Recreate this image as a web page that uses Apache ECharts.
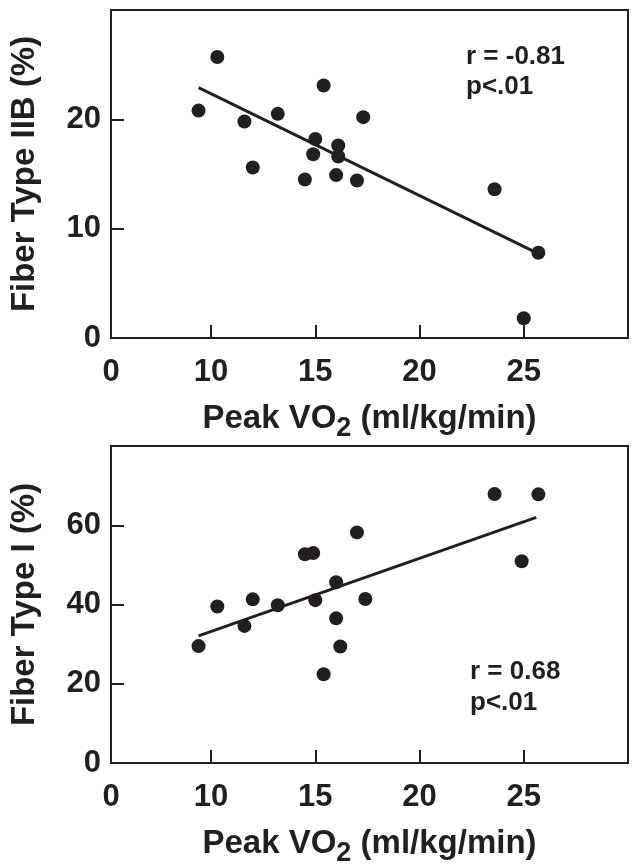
<!DOCTYPE html>
<html>
<head>
<meta charset="utf-8">
<script src="https://cdn.jsdelivr.net/npm/echarts@6/dist/echarts.min.js"></script>
<style>
  html, body { margin: 0; padding: 0; background: #fff; }
  #main { width: 639px; height: 868px; }
</style>
</head>
<body>
<div id="main"></div>
<script>
// 上图：IIB 型纤维
const vo2Top = [9.4, 10.3, 11.6, 12.0, 13.2, 14.5, 14.9, 15.0, 15.4, 16.0, 16.1, 16.1, 17.0, 17.3, 23.6, 25.0, 25.7]
const typeIIB = [20.8, 25.7, 19.8, 15.6, 20.5, 14.5, 16.8, 18.2, 23.1, 14.9, 17.6, 16.6, 14.4, 20.2, 13.6, 1.8, 7.8]
const fitTopX = [9.4, 25.6]
const fitTopY = [22.9, 7.8]
// 下图：I 型纤维
const vo2Bottom = [9.4, 10.3, 11.6, 12.0, 13.2, 14.5, 14.9, 15.0, 15.4, 16.0, 16.0, 16.2, 17.0, 17.4, 23.6, 24.9, 25.7]
const typeI = [29.5, 39.5, 34.6, 41.3, 39.8, 52.7, 53.0, 41.1, 22.4, 45.6, 36.5, 29.4, 58.2, 41.4, 67.9, 50.9, 67.8]
const fitBottomX = [9.4, 25.6]
const fitBottomY = [32.1, 62.0]
// 刻度
const xTicks = [0, 10, 15, 20, 25]
const yTicksTop = [0, 10, 20]
const yTicksBottom = [0, 20, 40, 60]

const ink = '#231f20'
const font = 'Liberation Sans, Arial, sans-serif'

function pairs(xs, ys) {
  return xs.map((x, i) => [x, ys[i]])
}

function makeX(gridIndex) {
  return {
    gridIndex: gridIndex,
    type: 'value',
    min: 0,
    max: 30,
    // 0~10 之间压缩显示
    breaks: [{ start: 2, end: 7.2, gap: 0 }],
    breakArea: { show: false },
    axisLine: { lineStyle: { color: ink, width: 2 } },
    axisTick: {
      inside: true, length: 13, customValues: xTicks,
      lineStyle: { color: ink, width: 2 }
    },
    splitLine: { show: false },
    axisLabel: {
      color: ink, fontFamily: font, fontWeight: 'bold', fontSize: 31, margin: 19,
      customValues: xTicks
    },
    name: '{a|Peak VO}{s|2}{a| (ml/kg/min)}',
    nameLocation: 'middle',
    nameGap: 64,
    nameTextStyle: {
      rich: {
        a: { color: ink, fontFamily: font, fontWeight: 'bold', fontSize: 33, verticalAlign: 'top' },
        s: { color: ink, fontFamily: font, fontWeight: 'bold', fontSize: 27, verticalAlign: 'top', padding: [13, 0, 0, 0] }
      }
    }
  }
}

function makeY(gridIndex, max, interval, ticks, title) {
  return {
    gridIndex: gridIndex,
    type: 'value',
    min: 0,
    max: max,
    interval: interval,
    axisLine: { lineStyle: { color: ink, width: 2 } },
    axisTick: { inside: true, length: 13, lineStyle: { color: ink, width: 2 } },
    splitLine: { show: false },
    axisLabel: {
      color: ink, fontFamily: font, fontWeight: 'bold', fontSize: 31, margin: 10,
      formatter: v => ticks.indexOf(v) >= 0 ? String(v) : ''
    },
    name: title,
    nameLocation: 'middle',
    nameGap: 70,
    nameTextStyle: { color: ink, fontFamily: font, fontWeight: 'bold', fontSize: 33 }
  }
}

function dots(idx, xs, ys) {
  return {
    type: 'scatter', xAxisIndex: idx, yAxisIndex: idx,
    data: pairs(xs, ys), symbolSize: 14,
    itemStyle: { color: ink, opacity: 1 }, z: 3
  }
}

function fit(idx, xs, ys) {
  return {
    type: 'line', xAxisIndex: idx, yAxisIndex: idx,
    data: pairs(xs, ys), symbol: 'none',
    lineStyle: { color: ink, width: 3 }, z: 2
  }
}

const chart = echarts.init(document.getElementById('main'))
chart.setOption({
  animation: false,
  backgroundColor: '#fff',
  grid: [
    { left: 102, width: 526, top: 10, height: 328, show: true, borderColor: ink, borderWidth: 2 },
    { left: 102, width: 526, top: 446, height: 329, show: true, borderColor: ink, borderWidth: 2 }
  ],
  xAxis: [makeX(0), makeX(1)],
  yAxis: [
    makeY(0, 30, 10, yTicksTop, 'Fiber Type IIB (%)'),
    makeY(1, 80, 20, yTicksBottom, 'Fiber Type I (%)')
  ],
  graphic: [
    {
      type: 'text', left: 466, top: 42,
      style: { text: 'r = -0.81\np<.01', fill: ink, font: 'bold 26px ' + font, lineHeight: 30 }
    },
    {
      type: 'text', left: 470, top: 656,
      style: { text: 'r = 0.68\np<.01', fill: ink, font: 'bold 26px ' + font, lineHeight: 31 }
    }
  ],
  series: [
    fit(0, fitTopX, fitTopY),
    dots(0, vo2Top, typeIIB),
    fit(1, fitBottomX, fitBottomY),
    dots(1, vo2Bottom, typeI)
  ]
})
</script>
</body>
</html>
